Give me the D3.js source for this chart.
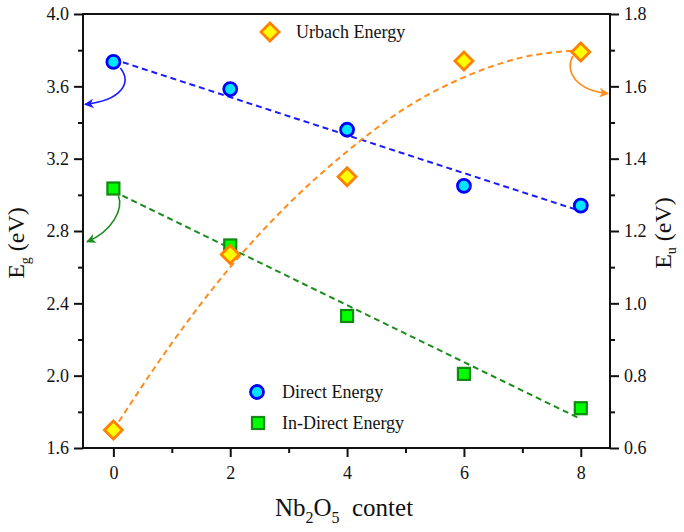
<!DOCTYPE html>
<html>
<head>
<meta charset="utf-8">
<script src="https://cdn.jsdelivr.net/npm/d3@7/dist/d3.min.js"></script>
<style>
  body { margin: 0; background: #fff; }
</style>
</head>
<body>
<div id="chart"></div>
<script>
// data
const content = [0, 2, 4, 6, 8];
const directEg = [3.735, 3.585, 3.36, 3.05, 2.94];
const indirectEg = [3.035, 2.72, 2.33, 2.01, 1.82];
const urbachEu = [0.65, 1.135, 1.35, 1.67, 1.695];

// dashed fit lines
const directFit = [[0, 3.75], [8, 2.91]];
const indirectFit = [[0, 3.02], [8, 1.76]];
const urbachFitX = [0, 1, 2, 3, 4, 5, 6, 7, 8];
const urbachFitY = [0.65, 0.89, 1.10, 1.275, 1.42, 1.54, 1.625, 1.68, 1.70];

const xTicks = [0, 2, 4, 6, 8];
const leftTicks = [1.6, 2.0, 2.4, 2.8, 3.2, 3.6, 4.0];
const rightTicks = [0.6, 0.8, 1.0, 1.2, 1.4, 1.6, 1.8];

const W = 684, H = 532;
const m = { left: 83, top: 14, right: 610, bottom: 448 };
const serif = '"Liberation Serif"';

const svg = d3.select("#chart").append("svg")
  .attr("width", W).attr("height", H);

const x = d3.scaleLinear().domain([-0.52, 8.5]).range([m.left, m.right]);
const yL = d3.scaleLinear().domain([1.6, 4.0]).range([m.bottom, m.top]);
const yR = d3.scaleLinear().domain([0.6, 1.8]).range([m.bottom, m.top]);

// axes
const fmt = d3.format(".1f");
const minorL = d3.range(1.8, 4.0, 0.4);
const minorR = d3.range(0.7, 1.8, 0.2);
const minorX = [1, 3, 5, 7];

svg.append("g").attr("transform", `translate(${m.left},0)`)
  .call(d3.axisLeft(yL).tickValues(leftTicks).tickFormat(fmt).tickSize(9).tickPadding(5));
svg.append("g").attr("transform", `translate(${m.left},0)`)
  .call(d3.axisLeft(yL).tickValues(minorL).tickFormat("").tickSize(5));

svg.append("g").attr("transform", `translate(${m.right},0)`)
  .call(d3.axisRight(yR).tickValues(rightTicks).tickFormat(fmt).tickSize(9).tickPadding(5));
svg.append("g").attr("transform", `translate(${m.right},0)`)
  .call(d3.axisRight(yR).tickValues(minorR).tickFormat("").tickSize(5));

svg.append("g").attr("transform", `translate(0,${m.bottom})`)
  .call(d3.axisBottom(x).tickValues(xTicks).tickFormat(d3.format("d")).tickSize(9).tickPadding(9));
svg.append("g").attr("transform", `translate(0,${m.bottom})`)
  .call(d3.axisBottom(x).tickValues(minorX).tickFormat("").tickSize(5));

svg.selectAll(".domain").remove();
svg.selectAll("g").attr("font-family", null).attr("font-size", null);
svg.selectAll(".tick line").attr("stroke", "#111").attr("stroke-width", 2);
svg.selectAll(".tick text").attr("font-size", 18).attr("fill", "#111");

// frame
svg.append("rect")
  .attr("x", m.left).attr("y", m.top)
  .attr("width", m.right - m.left).attr("height", m.bottom - m.top)
  .attr("fill", "none").attr("stroke", "#111").attr("stroke-width", 2);

// fit lines
const lineL = d3.line().x(d => x(d[0])).y(d => yL(d[1]));
const lineR = d3.line().x(d => x(d[0])).y(d => yR(d[1])).curve(d3.curveMonotoneX);

svg.append("path").attr("d", lineL(directFit))
  .attr("fill", "none").attr("stroke", "#1a1aff").attr("stroke-width", 2).attr("stroke-dasharray", "6,4");
svg.append("path").attr("d", lineL(indirectFit))
  .attr("fill", "none").attr("stroke", "#1a8c1a").attr("stroke-width", 2).attr("stroke-dasharray", "6,4");
svg.append("path").attr("d", lineR(urbachFitX.map((v, i) => [v, urbachFitY[i]])))
  .attr("fill", "none").attr("stroke", "#ff8c1a").attr("stroke-width", 2).attr("stroke-dasharray", "6,4");

// arrow markers
const defs = svg.append("defs");
function arrowHead(id, color) {
  defs.append("marker").attr("id", id)
    .attr("viewBox", "0 0 10 10").attr("refX", 9).attr("refY", 5)
    .attr("markerWidth", 7).attr("markerHeight", 6).attr("orient", "auto")
    .append("path").attr("d", "M0,0 L10,5 L0,10 L3,5 Z").attr("fill", color);
}
arrowHead("ab", "#1a1aff");
arrowHead("ag", "#1a8c1a");
arrowHead("ao", "#ff8c1a");

function curveArrow(x0, y0, c1x, c1y, c2x, c2y, x1, y1, color, id) {
  const p = d3.path();
  p.moveTo(x0, y0);
  p.bezierCurveTo(c1x, c1y, c2x, c2y, x1, y1);
  svg.append("path").attr("d", p.toString())
    .attr("fill", "none").attr("stroke", color).attr("stroke-width", 1.6)
    .attr("marker-end", `url(#${id})`);
}
{
  const bx = x(0), by = yL(directEg[0]);
  curveArrow(bx + 7, by + 6, bx + 18, by + 20, bx + 10, by + 38, m.left + 2, yL(3.5), "#1a1aff", "ab");
  const gx = x(0), gy = yL(indirectEg[0]);
  curveArrow(gx + 5, gy + 7, gx + 10, gy + 20, gx + 0, gy + 42, m.left + 4, yL(2.74), "#1a8c1a", "ag");
  const ox = x(8), oy = yR(urbachEu[4]);
  curveArrow(ox - 8, oy + 4, ox - 16, oy + 20, ox - 5, oy + 38, m.right - 2, yR(1.58), "#ff8c1a", "ao");
}

// markers
function circleMark(g, cx, cy) {
  g.append("circle").attr("cx", cx).attr("cy", cy).attr("r", 6.5)
    .attr("fill", "#00e5ff").attr("stroke", "#0000ff").attr("stroke-width", 2.8);
}
function squareMark(g, cx, cy) {
  g.append("rect").attr("x", cx - 6).attr("y", cy - 6).attr("width", 12).attr("height", 12)
    .attr("fill", "#00ff00").attr("stroke", "#108a10").attr("stroke-width", 2.2);
}
function diamondMark(g, cx, cy) {
  g.append("path").attr("d", `M${cx},${cy - 9}L${cx + 9},${cy}L${cx},${cy + 9}L${cx - 9},${cy}Z`)
    .attr("fill", "#ffff00").attr("stroke", "#ff8000").attr("stroke-width", 2.8);
}

const pts = svg.append("g");
content.forEach((c, i) => {
  circleMark(pts, x(c), yL(directEg[i]));
  squareMark(pts, x(c), yL(indirectEg[i]));
  diamondMark(pts, x(c), yR(urbachEu[i]));
});

// legends
diamondMark(svg, 270, 32);
svg.append("text").attr("x", 296).attr("y", 38).attr("font-size", 18).attr("fill", "#111").text("Urbach Energy");
circleMark(svg, 257, 392);
svg.append("text").attr("x", 282).attr("y", 398).attr("font-size", 18).attr("fill", "#111").text("Direct Energy");
squareMark(svg, 258, 423);
svg.append("text").attr("x", 282).attr("y", 429).attr("font-size", 18).attr("fill", "#111").text("In-Direct Energy");

// axis titles
const tl = svg.append("text").attr("transform", "translate(24,243) rotate(-90)")
  .attr("text-anchor", "middle").attr("font-size", 24).attr("fill", "#111");
tl.append("tspan").text("E");
tl.append("tspan").attr("font-size", 14).attr("dy", 6).text("g");
tl.append("tspan").attr("dy", -6).text(" (eV)");

const tr = svg.append("text").attr("transform", "translate(671,233) rotate(-90)")
  .attr("text-anchor", "middle").attr("font-size", 24).attr("fill", "#111");
tr.append("tspan").text("E");
tr.append("tspan").attr("font-size", 14).attr("dy", 5).text("u");
tr.append("tspan").attr("dy", -5).text(" (eV)");

const tb = svg.append("text").attr("x", 344).attr("y", 516)
  .attr("text-anchor", "middle").attr("font-size", 25).attr("fill", "#111");
tb.append("tspan").text("Nb");
tb.append("tspan").attr("font-size", 16).attr("dy", 7).text("2");
tb.append("tspan").attr("dy", -7).text("O");
tb.append("tspan").attr("font-size", 16).attr("dy", 7).text("5");
tb.append("tspan").attr("dy", -7).text("\u00a0 contet");

svg.selectAll("text, tspan").style("font-family", serif);
</script>
</body>
</html>
